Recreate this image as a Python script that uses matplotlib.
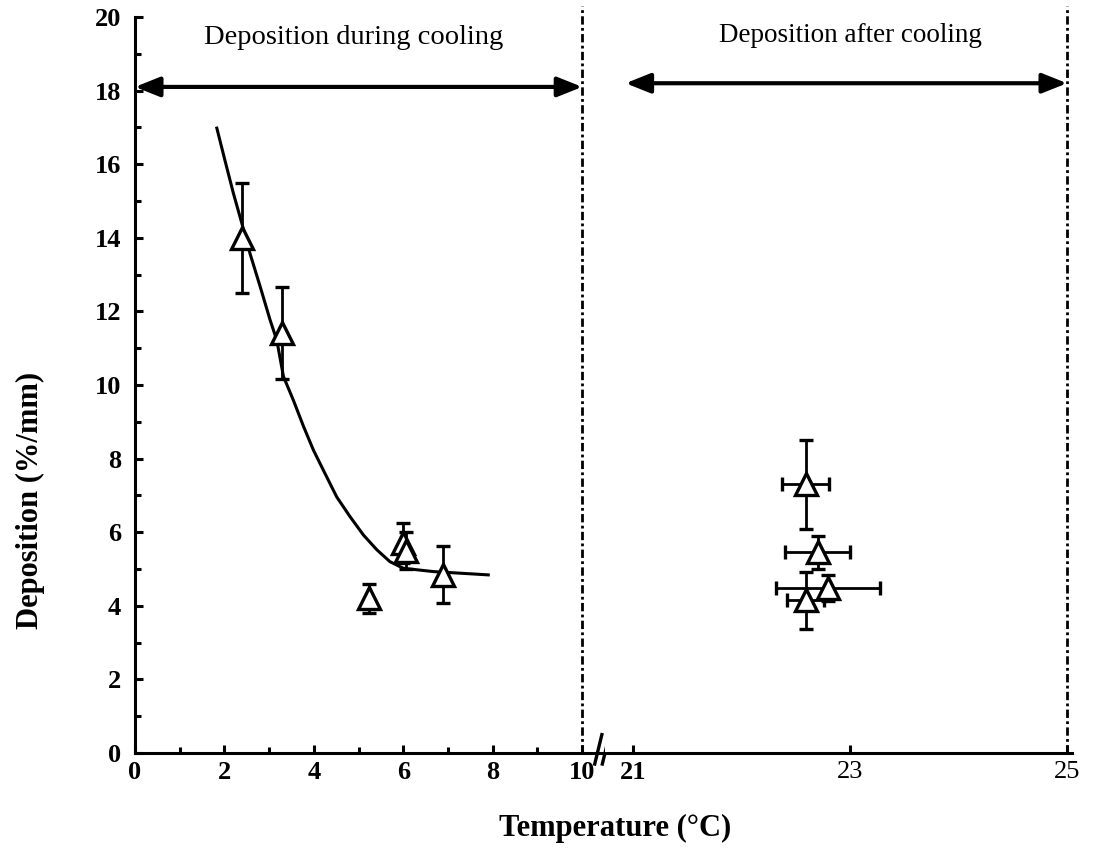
import matplotlib
matplotlib.use("Agg")
import matplotlib.pyplot as plt

plt.rcParams['font.family'] = ['Liberation Serif', 'DejaVu Serif']

# datos: deposicion durante el enfriamiento
temp_durante = [2.39, 3.28, 5.24, 6.00, 6.05, 6.89]
dep_durante = [14.0, 11.4, 4.2, 5.7, 5.5, 4.85]
err_durante = [1.5, 1.25, 0.4, 0.55, 0.5, 0.77]

# curva ajustada (puntos leidos)
curva_x = [1.83, 2.01, 2.20, 2.39, 2.57, 2.80, 3.02, 3.17, 3.32, 3.54, 3.77, 3.99, 4.21,
           4.51, 4.81, 5.11, 5.41, 5.70, 6.00, 6.67, 7.90]
curva_y = [16.98, 16.11, 15.21, 14.39, 13.58, 12.67, 11.77, 11.22, 10.23, 9.59, 8.87, 8.23,
           7.69, 6.96, 6.42, 5.92, 5.52, 5.20, 5.02, 4.93, 4.84]

# deposicion despues del enfriamiento
temp_despues = [22.59, 22.70, 22.80, 22.59]
dep_despues = [7.3, 5.45, 4.48, 4.15]
xerr_despues = [0.22, 0.30, 0.48, 0.17]
yerr_despues = [1.2, 0.45, 0.35, 0.77]

ticks_izq = [0, 2, 4, 6, 8, 10]
ticks_der = [21, 23, 25]
ticks_y = [0, 2, 4, 6, 8, 10, 12, 14, 16, 18, 20]

W, H = 1097, 867
fig = plt.figure(figsize=(W / 100, H / 100), dpi=100)
ax1 = fig.add_axes([135 / W, (H - 753) / H, 470 / W, 736 / H])
ax2 = fig.add_axes([605 / W, (H - 753) / H, 467 / W, 736 / H], sharey=ax1)

lw = 2.2
for ax in (ax1, ax2):
    ax.spines['top'].set_visible(False)
    ax.spines['right'].set_visible(False)
    ax.spines['bottom'].set_linewidth(lw)
    ax.spines['left'].set_linewidth(lw)
    ax.tick_params(direction='in', width=lw, length=6, labelsize=19, pad=8)
    ax.tick_params(which='minor', direction='in', width=lw, length=4)
ax2.spines['left'].set_visible(False)
ax2.tick_params(axis='y', which='both', left=False, labelleft=False)

ax1.set_xlim(0, 10.51)
ax2.set_xlim(20.74, 25.046)
ax1.set_ylim(0, 20)
ax1.set_xticks(ticks_izq)
ax1.set_xticks([1, 3, 5, 7, 9], minor=True)
ax2.set_xticks(ticks_der)
ax1.set_yticks(ticks_y)
ax1.set_yticks(range(1, 20, 2), minor=True)
ax1.tick_params(axis='y', pad=10)
ax1.tick_params(axis='x', pad=6)
ax2.tick_params(axis='x', pad=6)
for t in ax1.get_yticklabels() + ax1.get_xticklabels():
    t.set_fontweight('bold')
ax2.get_xticklabels()[0].set_fontweight('bold')

# curva y puntos
ax1.plot(curva_x, curva_y, color='black', lw=lw, zorder=2, solid_joinstyle='round')
estilo = dict(fmt='^', color='black', mfc='white', mec='black', ms=16, mew=2.4,
              elinewidth=2.0, capsize=5, capthick=2.0, zorder=3)
ax1.errorbar(temp_durante, dep_durante, yerr=err_durante, **estilo)
ax2.errorbar(temp_despues, dep_despues, xerr=xerr_despues, yerr=yerr_despues, **estilo)

# lineas verticales
ls = (0, (3, 1.2, 1, 1.2))
ax1.plot([10, 10], [0, 20.3], color='black', lw=2.0, ls=ls, clip_on=False)
ax2.plot([25, 25], [0, 20.3], color='black', lw=2.0, ls=ls, clip_on=False)

# flechas
flecha = dict(arrowstyle='<|-|>,head_length=1.5,head_width=0.6', color='black', lw=3,
              shrinkA=0, shrinkB=0)
ax1.annotate('', xy=(0, 18.1), xytext=(10, 18.1), arrowprops=flecha, annotation_clip=False)
ax2.annotate('', xy=(20.93, 18.2), xytext=(25, 18.2), arrowprops=flecha, annotation_clip=False)

ax1.text(4.9, 19.45, 'Deposition during cooling', ha='center', va='center', fontsize=20.5)
ax2.text(23.0, 19.5, 'Deposition after cooling', ha='center', va='center', fontsize=19.5)

# marcas de corte del eje
for dx in (10.36, 10.53):
    ax1.plot([dx - 0.08, dx + 0.08], [-0.3, 0.5], color='black', lw=2.4, clip_on=False)

fig.text(30 / W, 1 - 500 / H, 'Deposition (%/mm)', rotation=90, ha='center', va='center',
         fontsize=22, fontweight='bold')
fig.text(615 / W, 1 - 828 / H, 'Temperature (°C)', ha='center', va='center',
         fontsize=22, fontweight='bold')

fig.savefig('out.png', dpi=100)
